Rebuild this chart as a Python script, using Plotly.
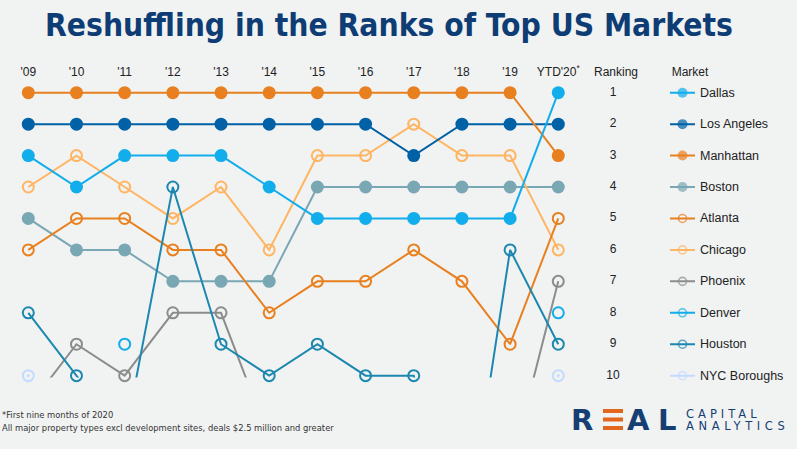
import plotly.graph_objects as go

# ---------------- data ----------------
years = ["'09", "'10", "'11", "'12", "'13", "'14", "'15", "'16", "'17", "'18", "'19", "YTD'20<sup>*</sup>"]
header_labels = ["Ranking", "Market"]
ranking_numbers = [1, 2, 3, 4, 5, 6, 7, 8, 9, 10]
markets = ["Dallas", "Los Angeles", "Manhattan", "Boston", "Atlanta",
           "Chicago", "Phoenix", "Denver", "Houston", "NYC Boroughs"]

dallas = [3, 4, 3, 3, 3, 4, 5, 5, 5, 5, 5, 1]
los_angeles = [2, 2, 2, 2, 2, 2, 2, 2, 3, 2, 2, 2]
manhattan = [1, 1, 1, 1, 1, 1, 1, 1, 1, 1, 1, 3]
boston = [5, 6, 6, 7, 7, 7, 4, 4, 4, 4, 4, 4]
atlanta = [6, 5, 5, 6, 6, 8, 7, 7, 6, 7, 9, 5]
chicago = [4, 3, 4, 5, 4, 6, 3, 3, 2, 3, 3, 6]
phoenix = [11, 9, 10, 8, 8, 12, None, None, None, None, 13, 7]
denver = [None, None, 9, None, None, None, None, None, None, None, None, 8]
houston = [8, 10, 12, 4, 9, 10, 9, 10, 10, 16, 6, 9]
nyc_boroughs = [10, None, None, None, None, None, None, None, None, None, None, 10]

footnotes = ["*First nine months of 2020",
             "All major property types excl development sites, deals $2.5 million and greater"]
title_text = "Reshuffling in the Ranks of Top US Markets"

# ---------------- styles ----------------
W, H = 797, 449
BG = "#F1F2F2"
series = [
    # name, values, color, symbol
    ("Boston", boston, "#7AA7B4", "circle"),
    ("Chicago", chicago, "#FFB562", "circle-open"),
    ("Atlanta", atlanta, "#E8801F", "circle-open"),
    ("Phoenix", phoenix, "#8C8C8C", "circle-open"),
    ("Denver", denver, "#12AEEB", "circle-open"),
    ("NYC Boroughs", nyc_boroughs, "#C4DAFF", "circle-open-dot"),
    ("Los Angeles", los_angeles, "#0061A6", "circle"),
    ("Manhattan", manhattan, "#E8801F", "circle"),
    ("Dallas", dallas, "#12AEEB", "circle"),
    ("Houston", houston, "#1C88B0", "circle-open"),
]
style = {s[0]: s for s in series}

# pixel geometry helpers
X0, DX = 28.3, 48.18        # pixel x of first year, spacing
def xv(px):
    return (px - X0) / DX

Y_TOP, Y_BOT = 82.0, 377.5  # plot area in pixels
R1, DR = 92.7, 31.44
def rv(py):
    return 1 + (py - R1) / DR

fig = go.Figure()
xs = list(range(len(years)))

for name, vals, color, sym in series:
    is_open = "open" in sym
    fig.add_trace(go.Scatter(
        x=xs, y=vals, mode="lines+markers", name=name, showlegend=False,
        connectgaps=False, cliponaxis=False,
        line=dict(color=color, width=2),
        marker=dict(symbol=sym, size=11 if is_open else 13, color=color,
                    line=dict(color=color, width=2 if is_open else 0)),
        hoverinfo="skip",
    ))

# ranking column
fig.add_trace(go.Scatter(
    x=[xv(613)] * len(ranking_numbers), y=ranking_numbers, mode="text",
    text=[str(r) for r in ranking_numbers], showlegend=False, cliponaxis=False,
    textfont=dict(family="Liberation Sans, Arial, sans-serif", size=12, color="#222222"),
    hoverinfo="skip",
))

# legend (manual)
annotations = []
for i, m in enumerate(markets):
    _, _, color, sym = style[m]
    is_open = "open" in sym
    r = ranking_numbers[i]
    fig.add_trace(go.Scatter(
        x=[xv(670), xv(682.5), xv(695)], y=[r, r, r], mode="lines+markers",
        showlegend=False, cliponaxis=False, hoverinfo="skip",
        line=dict(color=color, width=2),
        marker=dict(symbol="circle-open" if is_open else "circle",
                    size=[0, 8 if is_open else 10, 0], color=color,
                    line=dict(color=color, width=1.6 if is_open else 0)),
    ))
    annotations.append(dict(
        x=xv(698), y=r, xref="x", yref="y", text=m, showarrow=False,
        xanchor="left", yanchor="middle",
        font=dict(family="Liberation Sans, Arial, sans-serif", size=12.5, color="#222222"),
    ))

def px_x(px):
    return px / W
def px_y(py):
    return 1 - py / H

# title
annotations.append(dict(
    x=px_x(43), y=px_y(25), xref="paper", yref="paper", xanchor="left", yanchor="middle",
    text="<b>" + title_text + "</b>", showarrow=False,
    font=dict(family="Liberation Sans Narrow, Arial Narrow, DejaVu Sans Condensed, sans-serif",
              size=31.5, color="#0D3D74"),
))
# footnotes
for k, t in enumerate(footnotes):
    annotations.append(dict(
        x=px_x(0), y=px_y(414 + 13 * k), xref="paper", yref="paper",
        xanchor="left", yanchor="middle", text=t, showarrow=False,
        font=dict(family="Liberation Sans Narrow, Arial Narrow, DejaVu Sans Condensed, sans-serif",
                  size=9.3, color="#333333"),
    ))

# logo
NAVY = "#153E73"
ORANGE = "#E2661E"
logo_font = "DejaVu Sans, Verdana, sans-serif"
for letter, cx in [("R", 581.5), ("A", 638.5), ("L", 667)]:
    annotations.append(dict(
        x=px_x(cx), y=px_y(420), xref="paper", yref="paper", xanchor="center", yanchor="middle",
        text="<b>" + letter + "</b>", showarrow=False,
        font=dict(family=logo_font, size=29, color=NAVY),
    ))
annotations.append(dict(
    x=px_x(684), y=px_y(414), xref="paper", yref="paper", xanchor="left", yanchor="middle",
    text="<span style='letter-spacing:4px'>CAPITAL</span>", showarrow=False,
    font=dict(family=logo_font, size=11.5, color=NAVY),
))
annotations.append(dict(
    x=px_x(684), y=px_y(426), xref="paper", yref="paper", xanchor="left", yanchor="middle",
    text="<span style='letter-spacing:4.6px'>ANALYTICS</span>", showarrow=False,
    font=dict(family=logo_font, size=11.5, color=NAVY),
))
shapes = []
for (y0, y1) in [(409, 413), (417.5, 421.5), (426, 430)]:
    shapes.append(dict(type="rect", xref="paper", yref="paper",
                       x0=px_x(603), x1=px_x(623), y0=px_y(y1), y1=px_y(y0),
                       fillcolor=ORANGE, line=dict(width=0)))

tickvals = xs + [xv(616), xv(690)]
ticktext = years + header_labels

fig.update_layout(
    width=W, height=H,
    margin=dict(l=0, r=0, t=0, b=0),
    paper_bgcolor=BG, plot_bgcolor=BG,
    xaxis=dict(range=[xv(0), xv(W)], domain=[0, 1], side="top",
               tickvals=tickvals, ticktext=ticktext, ticks="",
               ticklabelstandoff=3,
               showgrid=False, zeroline=False, showline=False,
               tickfont=dict(family="Liberation Sans, Arial, sans-serif", size=12, color="#222222")),
    yaxis=dict(range=[rv(Y_BOT), rv(Y_TOP)], domain=[px_y(Y_BOT), px_y(Y_TOP)],
               visible=False, showgrid=False, zeroline=False),
    annotations=annotations,
    shapes=shapes,
    hovermode=False,
)

fig.write_html(
    "out.html",
    config={"displayModeBar": False},
    post_script="document.body.style.margin='0';document.body.style.background='" + BG + "';",
)
